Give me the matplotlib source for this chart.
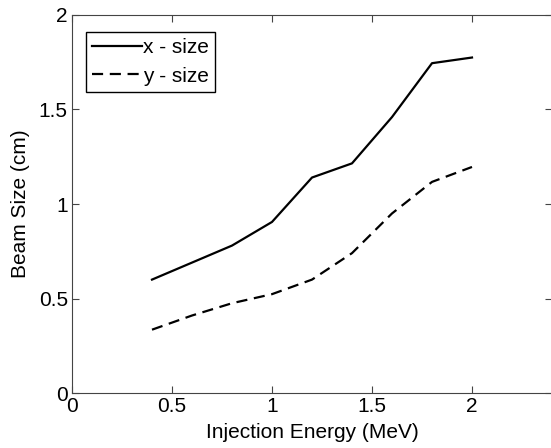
import matplotlib
matplotlib.use("Agg")
import matplotlib.pyplot as plt

plt.rcParams['font.family'] = ['Liberation Sans', 'DejaVu Sans']

energy = [0.4, 0.6, 0.8, 1.0, 1.2, 1.4, 1.6, 1.8, 2.0]
x_size = [0.60, 0.69, 0.78, 0.905, 1.14, 1.215, 1.46, 1.745, 1.775]
y_size = [0.335, 0.41, 0.475, 0.523, 0.60, 0.74, 0.95, 1.117, 1.196]

xticks = [0, 0.5, 1, 1.5, 2]
xtick_labels = ['0', '0.5', '1', '1.5', '2']
yticks = [0, 0.5, 1, 1.5, 2]
ytick_labels = ['0', '0.5', '1', '1.5', '2']

fig = plt.figure(figsize=(5.51, 4.48), dpi=100)
ax = fig.add_axes([72 / 551, 55 / 448, 480 / 551, 378 / 448])

ax.plot(energy, x_size, color='black', lw=1.6, label='x - size')
ax.plot(energy, y_size, color='black', lw=1.6, ls=(0, (5, 3)), label='y - size')

ax.set_xlim(0, 2.4)
ax.set_ylim(0, 2)
ax.set_xticks(xticks)
ax.set_xticklabels(xtick_labels)
ax.set_yticks(yticks)
ax.set_yticklabels(ytick_labels)
ax.tick_params(direction='in', top=True, right=True, labelsize=15, length=5,
               color='#444444', pad=3)
for s in ax.spines.values():
    s.set_color('#444444')

ax.set_xlabel('Injection Energy (MeV)', fontsize=15, labelpad=5)
ax.set_ylabel('Beam Size (cm)', fontsize=15, labelpad=6)

leg = ax.legend(loc='upper left', fontsize=15, fancybox=False, framealpha=1,
                edgecolor='black', handlelength=2.4, handletextpad=0.05,
                borderpad=0.3, labelspacing=0.45, borderaxespad=0,
                bbox_to_anchor=(0.029, 0.955))
leg.get_frame().set_linewidth(1.0)

fig.savefig('out.png', dpi=100)
